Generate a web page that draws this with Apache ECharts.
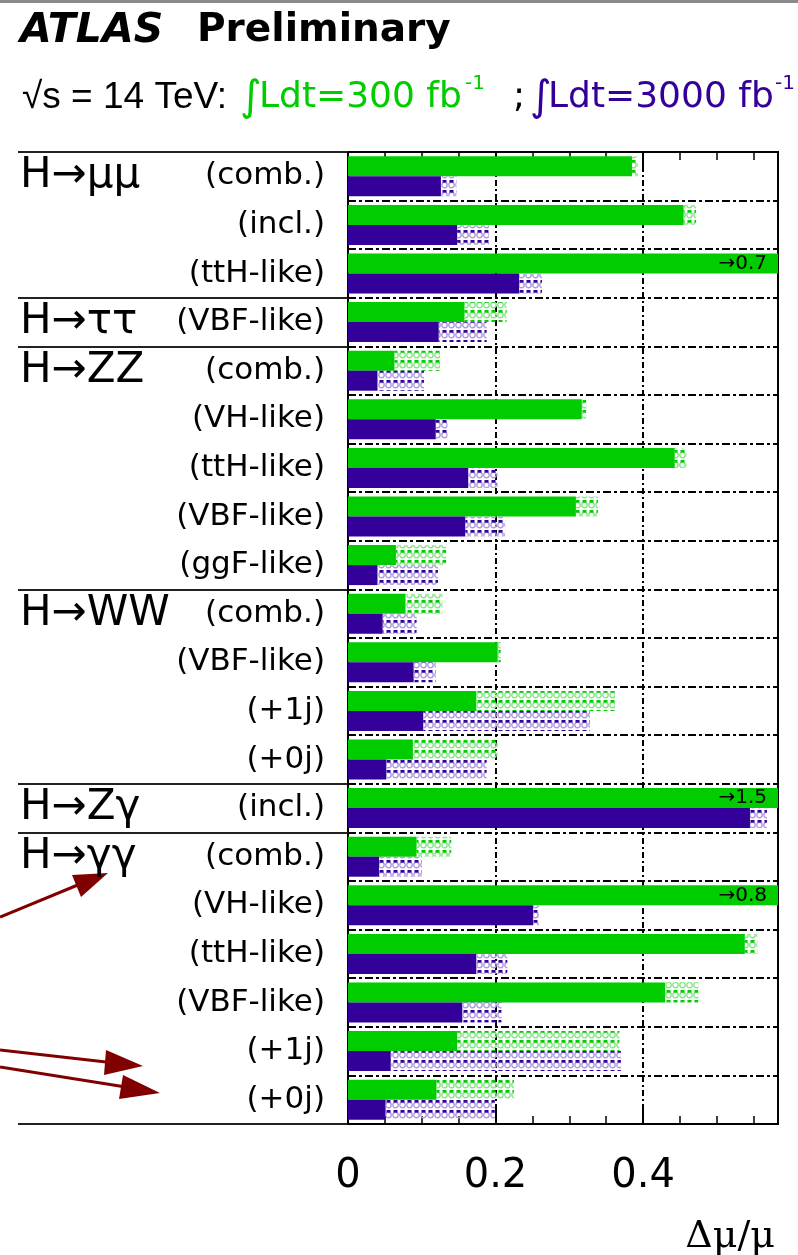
<!DOCTYPE html>
<html><head><meta charset="utf-8">
<script src="https://cdn.jsdelivr.net/npm/echarts@6/dist/echarts.min.js"></script>
<style>html,body{margin:0;padding:0;background:#fff}#c{width:798px;height:1255px}</style>
</head><body><div id="c"></div><script>
// ---- data ----
const processLabels = ['H→μμ','','','H→ττ','H→ZZ','','','','','H→WW','','','','H→Zγ','H→γγ','','','','',''];
const subLabels = ['(comb.)','(incl.)','(ttH-like)','(VBF-like)','(comb.)','(VH-like)','(ttH-like)','(VBF-like)','(ggF-like)','(comb.)','(VBF-like)','(+1j)','(+0j)','(incl.)','(comb.)','(VH-like)','(ttH-like)','(VBF-like)','(+1j)','(+0j)'];
const groupStarts = [0,3,4,9,13,14];
// 300 fb-1: experimental-only (solid) and total incl. theory (hatched end)
const green300Exp = [0.385,0.455,0.70,0.158,0.063,0.317,0.443,0.309,0.065,0.078,0.203,0.174,0.088,1.5,0.093,0.8,0.538,0.430,0.148,0.120];
const green300Tot = [0.393,0.472,0.70,0.215,0.125,0.323,0.459,0.339,0.133,0.128,0.207,0.362,0.203,1.5,0.140,0.8,0.555,0.475,0.368,0.225];
// 3000 fb-1
const purple3000Exp = [0.126,0.148,0.232,0.123,0.040,0.119,0.163,0.159,0.040,0.047,0.089,0.102,0.052,0.545,0.042,0.251,0.174,0.155,0.058,0.051];
const purple3000Tot = [0.147,0.191,0.263,0.188,0.103,0.135,0.203,0.213,0.122,0.093,0.119,0.328,0.188,0.568,0.100,0.259,0.216,0.208,0.370,0.199];
const xTickLabels = ['0','0.2','0.4'];
const XMAX = 0.583;

const GREEN = '#00cc00', PURPLE = '#330099';
function makeHatch(light, dark) {
  const c = document.createElement('canvas');
  c.width = 7; c.height = 10;
  const g = c.getContext('2d');
  g.strokeStyle = light; g.lineWidth = 1.4;
  g.beginPath(); g.arc(3.5, 5, 2.7, 0, 2 * Math.PI); g.stroke();
  g.fillStyle = dark;
  g.fillRect(1.5, 0, 4, 2.6);
  return c;
}
const rows = subLabels.map((_, i) => 'r' + i);
const clip = v => Math.min(v, XMAX);
const gSolid = green300Exp.map(clip);
const gHatch = green300Tot.map((t, i) => Math.max(0, clip(t) - clip(green300Exp[i])));
const pSolid = purple3000Exp.map(clip);
const pHatch = purple3000Tot.map((t, i) => Math.max(0, clip(t) - clip(purple3000Exp[i])));

const FONT = 'DejaVu Sans';
const xLabelFmt = v => {
  const k = Math.round(v / 0.2);
  return (Math.abs(v - k * 0.2) < 1e-6 && k < xTickLabels.length) ? xTickLabels[k] : '';
};
const rowSplit = {color: '#000', width: 2, type: [8, 3, 3, 3]};
function xAx(pos, interval, len, extra) {
  return Object.assign({
    gridIndex: 0, type: 'value', min: 0, max: XMAX, interval: interval, position: pos,
    axisLine: {show: false},
    axisTick: {show: true, inside: true, length: len, lineStyle: {color: '#000', width: len > 10 ? 2 : 1.5}},
    axisLabel: {show: false}, splitLine: {show: false}
  }, extra || {});
}
const barCommon = {type: 'bar', xAxisIndex: 0, yAxisIndex: 0, barWidth: 20, barGap: '0%', animation: false};
const mid = {textVerticalAlign: 'middle', verticalAlign: 'middle'};
const T = (x, y, text, font, fill) => ({type: 'text', style: Object.assign({x: x, y: y, text: text, font: font, fill: fill}, mid)});

const option = {
  animation: false,
  backgroundColor: '#fff',
  grid: [
    {left: 348, right: 20, top: 152, bottom: 131, show: true, borderColor: '#000', borderWidth: 2, backgroundColor: 'transparent', outerBoundsMode: 'none', containLabel: false},
    {left: 18, width: 330, top: 152, bottom: 131, outerBoundsMode: 'none', containLabel: false}
  ],
  xAxis: [
    xAx('bottom', 0.2, 19, {
      axisLabel: {show: true, formatter: xLabelFmt, fontSize: 40, fontFamily: FONT, color: '#000', margin: 33},
      splitLine: {show: true, lineStyle: {color: '#000', width: 2, type: [6, 3, 2, 3]}},
      name: 'Δμ/μ', nameLocation: 'end', nameGap: -3,
      nameTextStyle: {fontFamily: 'DejaVu Serif', fontSize: 38, color: '#000', align: 'right', verticalAlign: 'top', padding: [94, 0, 0, 0]}
    }),
    xAx('bottom', 0.05, 8),
    xAx('top', 0.2, 19),
    xAx('top', 0.05, 8),
    {gridIndex: 1, type: 'value', min: 0, max: 1, show: false}
  ],
  yAxis: [
    {gridIndex: 0, type: 'category', data: rows, inverse: true, position: 'left',
      axisLine: {show: false}, axisTick: {show: false},
      axisLabel: {interval: 0, formatter: (v, i) => subLabels[i], fontSize: 31, fontFamily: FONT, color: '#000', margin: 23},
      splitLine: {show: true, interval: 0, lineStyle: rowSplit}},
    {gridIndex: 0, type: 'category', data: rows, inverse: true, position: 'left', offset: 0,
      axisLine: {show: false}, axisTick: {show: false},
      axisLabel: {interval: 0, formatter: (v, i) => processLabels[i], align: 'left', fontSize: 42, fontFamily: FONT, color: '#000', margin: 328},
      splitLine: {show: false}},
    {gridIndex: 1, type: 'category', data: rows, inverse: true, position: 'left',
      axisLine: {show: false}, axisTick: {show: false}, axisLabel: {show: false},
      splitLine: {show: true, interval: (i) => groupStarts.indexOf(i) >= 0, lineStyle: {color: '#222', width: 2}}}
  ],
  series: [
    Object.assign({}, barCommon, {name: '300 fb-1', stack: 'g', data: gSolid, itemStyle: {color: GREEN},
      label: {show: true, position: 'insideRight', distance: 11, fontSize: 20, fontFamily: FONT, color: '#000',
        formatter: p => green300Exp[p.dataIndex] > XMAX ? '→' + green300Exp[p.dataIndex] : ''}}),
    Object.assign({}, barCommon, {name: '300 fb-1 theory', stack: 'g', data: gHatch,
      itemStyle: {color: {image: makeHatch('#88e488', GREEN), repeat: 'repeat'}}}),
    Object.assign({}, barCommon, {name: '3000 fb-1', stack: 'p', data: pSolid, itemStyle: {color: PURPLE}}),
    Object.assign({}, barCommon, {name: '3000 fb-1 theory', stack: 'p', data: pHatch,
      itemStyle: {color: {image: makeHatch('#ad9ce0', PURPLE), repeat: 'repeat'}}})
  ],
  graphic: [
    {type: 'rect', shape: {x: 0, y: 0, width: 798, height: 3}, style: {fill: '#8a8a8a'}},
    T(20, 31, 'ATLAS', 'italic bold 41px "DejaVu Sans"', '#000'),
    T(197, 31, 'Preliminary', 'bold 39px "DejaVu Sans"', '#000'),
    T(22, 98, '√s = 14 TeV:', '37px "Liberation Sans"', '#000'),
    T(240, 99, '∫', '42px "DejaVu Sans"', GREEN),
    T(259, 98, 'Ldt=300 fb', '36px "DejaVu Sans"', GREEN),
    T(465, 84, '-1', '20px "DejaVu Sans"', GREEN),
    T(513, 98, ';', '36px "DejaVu Sans"', '#000'),
    T(530, 99, '∫', '42px "DejaVu Sans"', PURPLE),
    T(548, 98, 'Ldt=3000 fb', '36px "DejaVu Sans"', PURPLE),
    T(775, 84, '-1', '20px "DejaVu Sans"', PURPLE),
    // annotation arrows
    {type: 'line', shape: {x1: 0, y1: 917, x2: 85, y2: 882}, style: {stroke: '#800000', lineWidth: 3}},
    {type: 'polygon', shape: {points: [[108, 873], [81, 897], [72, 875]]}, style: {fill: '#800000'}},
    {type: 'line', shape: {x1: 0, y1: 1050, x2: 115, y2: 1063}, style: {stroke: '#800000', lineWidth: 3}},
    {type: 'polygon', shape: {points: [[143, 1066], [104, 1075], [106, 1050]]}, style: {fill: '#800000'}},
    {type: 'line', shape: {x1: 0, y1: 1067, x2: 132, y2: 1088}, style: {stroke: '#800000', lineWidth: 3}},
    {type: 'polygon', shape: {points: [[160, 1093], [119, 1099], [123, 1075]]}, style: {fill: '#800000'}}
  ]
};
const chart = echarts.init(document.getElementById('c'), null, {renderer: 'canvas'});
chart.setOption(option);
</script></body></html>
